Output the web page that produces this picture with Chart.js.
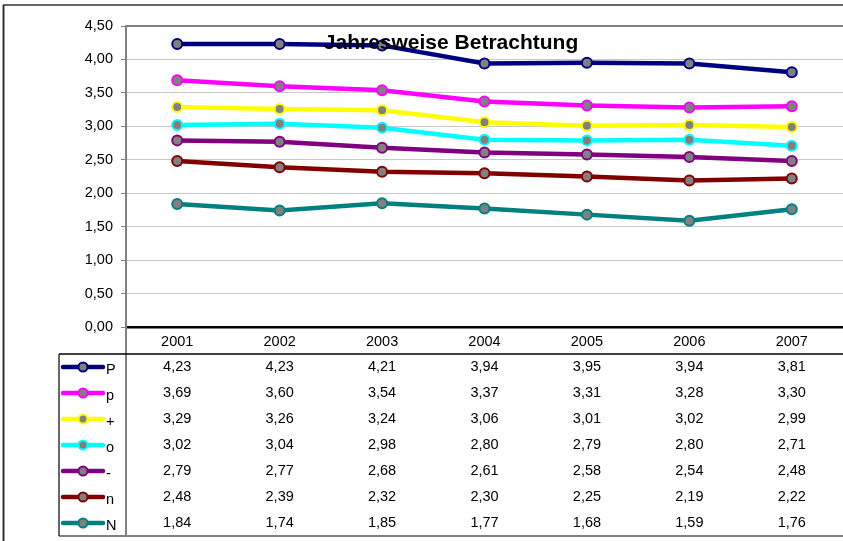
<!DOCTYPE html>
<html>
<head>
<meta charset="utf-8">
<script src="https://cdn.jsdelivr.net/npm/chart.js@4.4.1/dist/chart.umd.min.js"></script>
<style>
html,body{margin:0;padding:0;background:#fff;}
#wrap{width:843px;height:541px;position:relative;}
canvas{display:block;}
</style>
</head>
<body>
<div id="wrap"><canvas id="c" width="843" height="541"></canvas></div>
<script>
const years = ['2001','2002','2003','2004','2005','2006','2007'];
const seriesNames = ['P','p','+','o','-','n','N'];
const seriesColors = ['#000080','#FF00FF','#FFFF00','#00FFFF','#800080','#800000','#008080'];
const valP = [4.23,4.23,4.21,3.94,3.95,3.94,3.81];
const valp = [3.69,3.60,3.54,3.37,3.31,3.28,3.30];
const valPlus = [3.29,3.26,3.24,3.06,3.01,3.02,2.99];
const valO = [3.02,3.04,2.98,2.80,2.79,2.80,2.71];
const valMinus = [2.79,2.77,2.68,2.61,2.58,2.54,2.48];
const valn = [2.48,2.39,2.32,2.30,2.25,2.19,2.22];
const valN = [1.84,1.74,1.85,1.77,1.68,1.59,1.76];
const seriesValues = [valP,valp,valPlus,valO,valMinus,valn,valN];
const titleText = 'Jahresweise Betrachtung';

const FONT = '"Liberation Sans", Arial, Helvetica, sans-serif';
const fmt = v => v.toFixed(2).replace('.', ',');
const ROW_H = 26;

const datasets = seriesNames.map((name, i) => ({
  label: name,
  data: seriesValues[i],
  borderColor: seriesColors[i],
  backgroundColor: seriesColors[i],
  borderWidth: 4.5,
  pointRadius: 5,
  pointBackgroundColor: '#808080',
  pointBorderColor: seriesColors[i],
  pointBorderWidth: 2,
  tension: 0,
  fill: false
}));

const framePlugin = {
  id: 'frame',
  beforeDraw(chart) {
    const ctx = chart.ctx;
    ctx.save();
    ctx.fillStyle = '#fff';
    ctx.fillRect(0, 0, chart.width, chart.height);
    ctx.restore();
  },
  afterDraw(chart) {
    const ctx = chart.ctx;
    const ca = chart.chartArea;
    const xs = chart.scales.x;
    const headerBottom = xs.bottom;
    const tableBottom = headerBottom + ROW_H * seriesNames.length;
    const tableLeft = 59;
    ctx.save();
    ctx.strokeStyle = '#808080';
    ctx.lineWidth = 2;
    ctx.beginPath(); ctx.moveTo(ca.left, ca.top); ctx.lineTo(chart.width, ca.top); ctx.stroke();
    ctx.beginPath(); ctx.moveTo(ca.left, ca.top); ctx.lineTo(ca.left, tableBottom); ctx.stroke();
    ctx.beginPath(); ctx.moveTo(tableLeft, tableBottom); ctx.lineTo(chart.width, tableBottom); ctx.stroke();
    ctx.strokeStyle = '#000';
    ctx.lineWidth = 1.5;
    ctx.beginPath(); ctx.moveTo(tableLeft, headerBottom); ctx.lineTo(chart.width, headerBottom); ctx.stroke();
    ctx.lineWidth = 1.2;
    ctx.beginPath(); ctx.moveTo(tableLeft, headerBottom); ctx.lineTo(tableLeft, tableBottom); ctx.stroke();
    ctx.strokeStyle = '#333';
    ctx.lineWidth = 2;
    ctx.beginPath(); ctx.moveTo(3.5, 5); ctx.lineTo(3.5, chart.height); ctx.stroke();
    ctx.lineWidth = 1.5;
    ctx.beginPath(); ctx.moveTo(3, 5); ctx.lineTo(chart.width, 5); ctx.stroke();

    ctx.font = '14.5px ' + FONT;
    ctx.textBaseline = 'middle';
    seriesNames.forEach((name, r) => {
      const yc = headerBottom + ROW_H * (r + 0.5);
      ctx.strokeStyle = seriesColors[r];
      ctx.lineWidth = 4.5;
      ctx.lineCap = 'round';
      ctx.beginPath(); ctx.moveTo(63, yc); ctx.lineTo(103, yc); ctx.stroke();
      ctx.lineCap = 'butt';
      ctx.beginPath(); ctx.arc(83, yc, 4.5, 0, Math.PI * 2);
      ctx.fillStyle = '#808080'; ctx.fill();
      ctx.lineWidth = 2; ctx.strokeStyle = seriesColors[r]; ctx.stroke();
      ctx.fillStyle = '#000';
      ctx.textAlign = 'left';
      ctx.fillText(name, 106, yc + 3);
      ctx.textAlign = 'center';
      seriesValues[r].forEach((v, i) => {
        ctx.fillText(fmt(v), xs.getPixelForValue(i), yc);
      });
    });

    ctx.font = 'bold 21px ' + FONT;
    ctx.textAlign = 'center';
    ctx.textBaseline = 'middle';
    ctx.fillStyle = '#000';
    ctx.fillText(titleText, 451, 43);
    ctx.restore();
  }
};

new Chart(document.getElementById('c'), {
  type: 'line',
  data: { labels: years, datasets },
  options: {
    responsive: false,
    animation: false,
    devicePixelRatio: 1,
    layout: { autoPadding: false, padding: { top: 26, left: 0, right: -2, bottom: ROW_H * 7 + 5 } },
    plugins: { legend: { display: false }, title: { display: false }, tooltip: { enabled: false } },
    scales: {
      x: {
        type: 'category',
        offset: true,
        grid: { display: false, drawTicks: false },
        border: { display: true, color: '#000', width: 2.5 },
        ticks: { color: '#000', font: { family: FONT, size: 14.5 }, padding: 6, maxRotation: 0, autoSkip: false },
        afterFit(s) { s.height = 27; s.paddingLeft = 0; s.paddingRight = 0; }
      },
      y: {
        min: 0, max: 4.5,
        grid: { color: '#c8c8c8', lineWidth: 1, tickLength: 5, tickColor: '#808080', drawTicks: true },
        border: { display: true, color: '#808080', width: 2 },
        ticks: { stepSize: 0.5, color: '#000', font: { family: FONT, size: 14.5 }, padding: 8, callback: v => fmt(v) },
        afterFit(s) { s.width = 126; }
      }
    }
  },
  plugins: [framePlugin]
});
</script>
</body>
</html>
